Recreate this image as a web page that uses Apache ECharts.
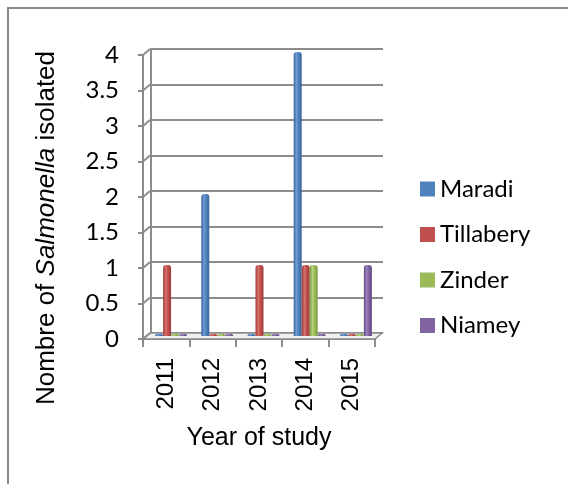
<!DOCTYPE html>
<html>
<head>
<meta charset="utf-8">
<script src="https://cdn.jsdelivr.net/npm/echarts@6/dist/echarts.min.js"></script>
<style>
html,body{margin:0;padding:0;background:#fff;}
#c{width:568px;height:484px;}
</style>
</head>
<body>
<div id="c"></div>
<script>
const years = ['2011', '2012', '2013', '2014', '2015'];
const maradi = [0, 2, 0, 4, 0];
const tillabery = [1, 0, 1, 1, 0];
const zinder = [0, 0, 0, 1, 0];
const niamey = [0, 0, 0, 0, 1];
const yTicks = [0, 0.5, 1, 1.5, 2, 2.5, 3, 3.5, 4];
const seriesNames = ['Maradi', 'Tillabery', 'Zinder', 'Niamey'];
const seriesData = [maradi, tillabery, zinder, niamey];
const baseColors = ['#4f81bd', '#c0504d', '#9bbb59', '#8064a2'];
const darkColors = ['#3a659b', '#9c3b38', '#7a9a42', '#624b82'];
const lightColors = ['#6f9bd3', '#d8706c', '#b3d176', '#9d82bf'];

const chart = echarts.init(document.getElementById('c'), null, {renderer: 'canvas'});
const gridColor = '#8c8c8c';
const dx = 7, dy = -6;

function cyl(i) {
  return new echarts.graphic.LinearGradient(0, 0, 1, 0, [
    {offset: 0, color: darkColors[i]},
    {offset: 0.35, color: lightColors[i]},
    {offset: 0.6, color: baseColors[i]},
    {offset: 1, color: darkColors[i]}
  ]);
}

const barSeries = seriesNames.map((n, i) => ({
  name: n,
  type: 'bar',
  xAxisIndex: 2, yAxisIndex: 2,
  data: seriesData[i],
  barWidth: 8,
  barGap: '0%',
  barMinHeight: 2,
  itemStyle: {color: cyl(i), borderRadius: [3, 3, 0, 0]},
  z: 5
}));

const option = {
  animation: false,
  backgroundColor: '#fff',
  graphic: [
    {type: 'rect', shape: {x: 8, y: 8, width: 700, height: 600}, style: {fill: 'none', stroke: '#8a8a8a', lineWidth: 2}, z: -10},
    {
      type: 'text', x: 47, y: 228, rotation: Math.PI / 2,
      style: {
        text: '{n|Nombre of }{i|Salmonella}{n| isolated}',
        align: 'center', verticalAlign: 'middle',
        fill: '#000',
        rich: {
          n: {fontFamily: 'Liberation Sans', fontSize: 26, fill: '#000'},
          i: {fontFamily: 'Liberation Sans', fontSize: 26, fontStyle: 'italic', fill: '#000'}
        }
      }
    }
  ],
  legend: {
    orient: 'vertical',
    left: 415, top: 172,
    itemWidth: 15, itemHeight: 15,
    itemGap: 21.5,
    icon: 'rect',
    textStyle: {fontFamily: 'Lato', fontSize: 24, color: '#000', lineHeight: 24},
    data: seriesNames.map((n, i) => ({name: n, itemStyle: {color: baseColors[i]}}))
  },
  grid: [
    {left: 151, right: 185, top: 49, bottom: 151},
    {left: 143, right: 193, top: 55, bottom: 145},
    {left: 148, right: 189, top: 52, bottom: 148}
  ],
  xAxis: [
    {gridIndex: 0, type: 'category', data: years, show: false},
    {
      gridIndex: 1, type: 'category', data: years,
      axisLine: {show: true, lineStyle: {color: gridColor, width: 2}},
      axisTick: {show: true, length: 8, interval: 0, lineStyle: {color: gridColor, width: 2}},
      axisLabel: {rotate: 90, margin: 19, fontFamily: 'Liberation Sans', fontSize: 24, color: '#000'},
      name: 'Year of study', nameLocation: 'middle', nameGap: 87,
      nameTextStyle: {fontFamily: 'Liberation Sans', fontSize: 25, color: '#000'}
    },
    {gridIndex: 2, type: 'category', data: years, show: false}
  ],
  yAxis: [
    {
      gridIndex: 0, type: 'value', min: 0, max: 4, interval: 0.5,
      axisLine: {show: true, lineStyle: {color: gridColor, width: 2}},
      axisTick: {show: false}, axisLabel: {show: false},
      splitLine: {show: true, lineStyle: {color: gridColor, width: 2}}
    },
    {
      gridIndex: 1, type: 'value', min: 0, max: 4, interval: 0.5,
      axisLine: {show: true, lineStyle: {color: gridColor, width: 2}},
      axisTick: {show: true, length: 5, lineStyle: {color: gridColor, width: 2}},
      axisLabel: {margin: 24, fontFamily: 'Lato', fontSize: 24, color: '#000'},
      splitLine: {show: false}
    },
    {gridIndex: 2, type: 'value', min: 0, max: 4, interval: 0.5, show: false, splitLine: {show: false}}
  ],
  series: [
    {
      type: 'custom', xAxisIndex: 1, yAxisIndex: 1, z: 1, silent: true,
      data: [[0, 0]],
      renderItem: function (params, api) {
        const cs = params.coordSys;
        const y0 = cs.y + cs.height;
        return {
          type: 'polygon',
          shape: {points: [[cs.x, y0], [cs.x + cs.width, y0], [cs.x + cs.width + dx, y0 + dy], [cs.x + dx, y0 + dy]]},
          style: {fill: '#f0f0f0', stroke: gridColor, lineWidth: 1.5}
        };
      }
    },
    {
      type: 'custom', xAxisIndex: 1, yAxisIndex: 1, z: 1, silent: true,
      data: yTicks.map(v => [0, v]),
      renderItem: function (params, api) {
        const cs = params.coordSys;
        const y = api.coord([0, api.value(1)])[1];
        return {
          type: 'line',
          shape: {x1: cs.x, y1: y, x2: cs.x + dx, y2: y + dy},
          style: {stroke: gridColor, lineWidth: 2}
        };
      }
    }
  ].concat(barSeries)
};
chart.setOption(option);
</script>
</body>
</html>
